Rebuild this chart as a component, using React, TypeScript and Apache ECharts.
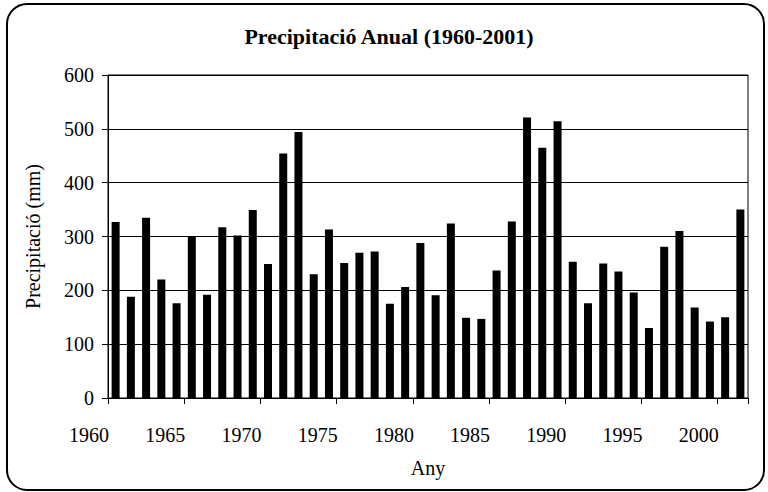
import React, { useEffect, useRef } from "react";
import * as echarts from "echarts";

const years: string[] = [
  "1960", "1961", "1962", "1963", "1964", "1965", "1966", "1967", "1968", "1969",
  "1970", "1971", "1972", "1973", "1974", "1975", "1976", "1977", "1978", "1979",
  "1980", "1981", "1982", "1983", "1984", "1985", "1986", "1987", "1988", "1989",
  "1990", "1991", "1992", "1993", "1994", "1995", "1996", "1997", "1998", "1999",
  "2000", "2001",
];

const precipitation: number[] = [
  327, 188, 335, 220, 176, 301, 192, 317, 302, 349,
  249, 454, 494, 230, 313, 251, 270, 272, 175, 206,
  288, 191, 324, 149, 147, 237, 328, 521, 465, 514,
  253, 176, 250, 235, 196, 130, 281, 310, 168, 142,
  150, 350,
];

const yTicks = { min: 0, max: 600, interval: 100 };

const FONT = "'Liberation Serif', 'Times New Roman', serif";

export default function App() {
  const ref = useRef<HTMLDivElement>(null);
  useEffect(() => {
    if (!ref.current) return;
    const chart = echarts.init(ref.current, undefined, { renderer: "svg" });
    chart.setOption({
      animation: false,
      backgroundColor: "#ffffff",
      title: {
        text: "Precipitació Anual (1960-2001)",
        left: 384,
        top: 20,
        textAlign: "center",
        textStyle: { fontFamily: FONT, fontSize: 22, fontWeight: "bold", color: "#000" },
      },
      graphic: [
        {
          type: "rect",
          shape: { x: 7, y: 4, width: 757, height: 486, r: 20 },
          style: { fill: "none", stroke: "#000", lineWidth: 2 },
          z: 100,
        },
      ],
      grid: {
        left: 108,
        right: 20,
        top: 75,
        bottom: 94,
        show: true,
        borderColor: "#000",
        borderWidth: 1,
        containLabel: false,
      },
      xAxis: {
        type: "category",
        data: years,
        boundaryGap: true,
        name: "Any",
        nameLocation: "middle",
        nameGap: 60,
        nameTextStyle: { fontFamily: FONT, fontSize: 20, color: "#000" },
        axisLine: { show: true, lineStyle: { color: "#000", width: 1 } },
        axisTick: { show: true, interval: 4, alignWithLabel: false, length: 6, lineStyle: { color: "#000" } },
        axisLabel: {
          interval: 4,
          margin: 27,
          fontFamily: FONT,
          fontSize: 20,
          color: "#000",
          padding: [0, 53, 0, 0],
        },
        splitLine: { show: false },
      },
      yAxis: {
        type: "value",
        min: yTicks.min,
        max: yTicks.max,
        interval: yTicks.interval,
        name: "Precipitació (mm)",
        nameLocation: "middle",
        nameGap: 65,
        nameTextStyle: { fontFamily: FONT, fontSize: 20, color: "#000" },
        axisLine: { show: true, lineStyle: { color: "#000", width: 1 } },
        axisTick: { show: true, length: 6, lineStyle: { color: "#000" } },
        axisLabel: { margin: 14, fontFamily: FONT, fontSize: 20, color: "#000" },
        splitLine: { show: true, lineStyle: { color: "#000", width: 1 } },
      },
      series: [
        {
          type: "bar",
          data: precipitation,
          barWidth: 8,
          itemStyle: { color: "#000" },
        },
      ],
    });
    return () => chart.dispose();
  }, []);
  return (
    <div
      ref={ref}
      style={{ position: "fixed", left: 0, top: 0, width: 768, height: 492, background: "#fff" }}
    />
  );
}
